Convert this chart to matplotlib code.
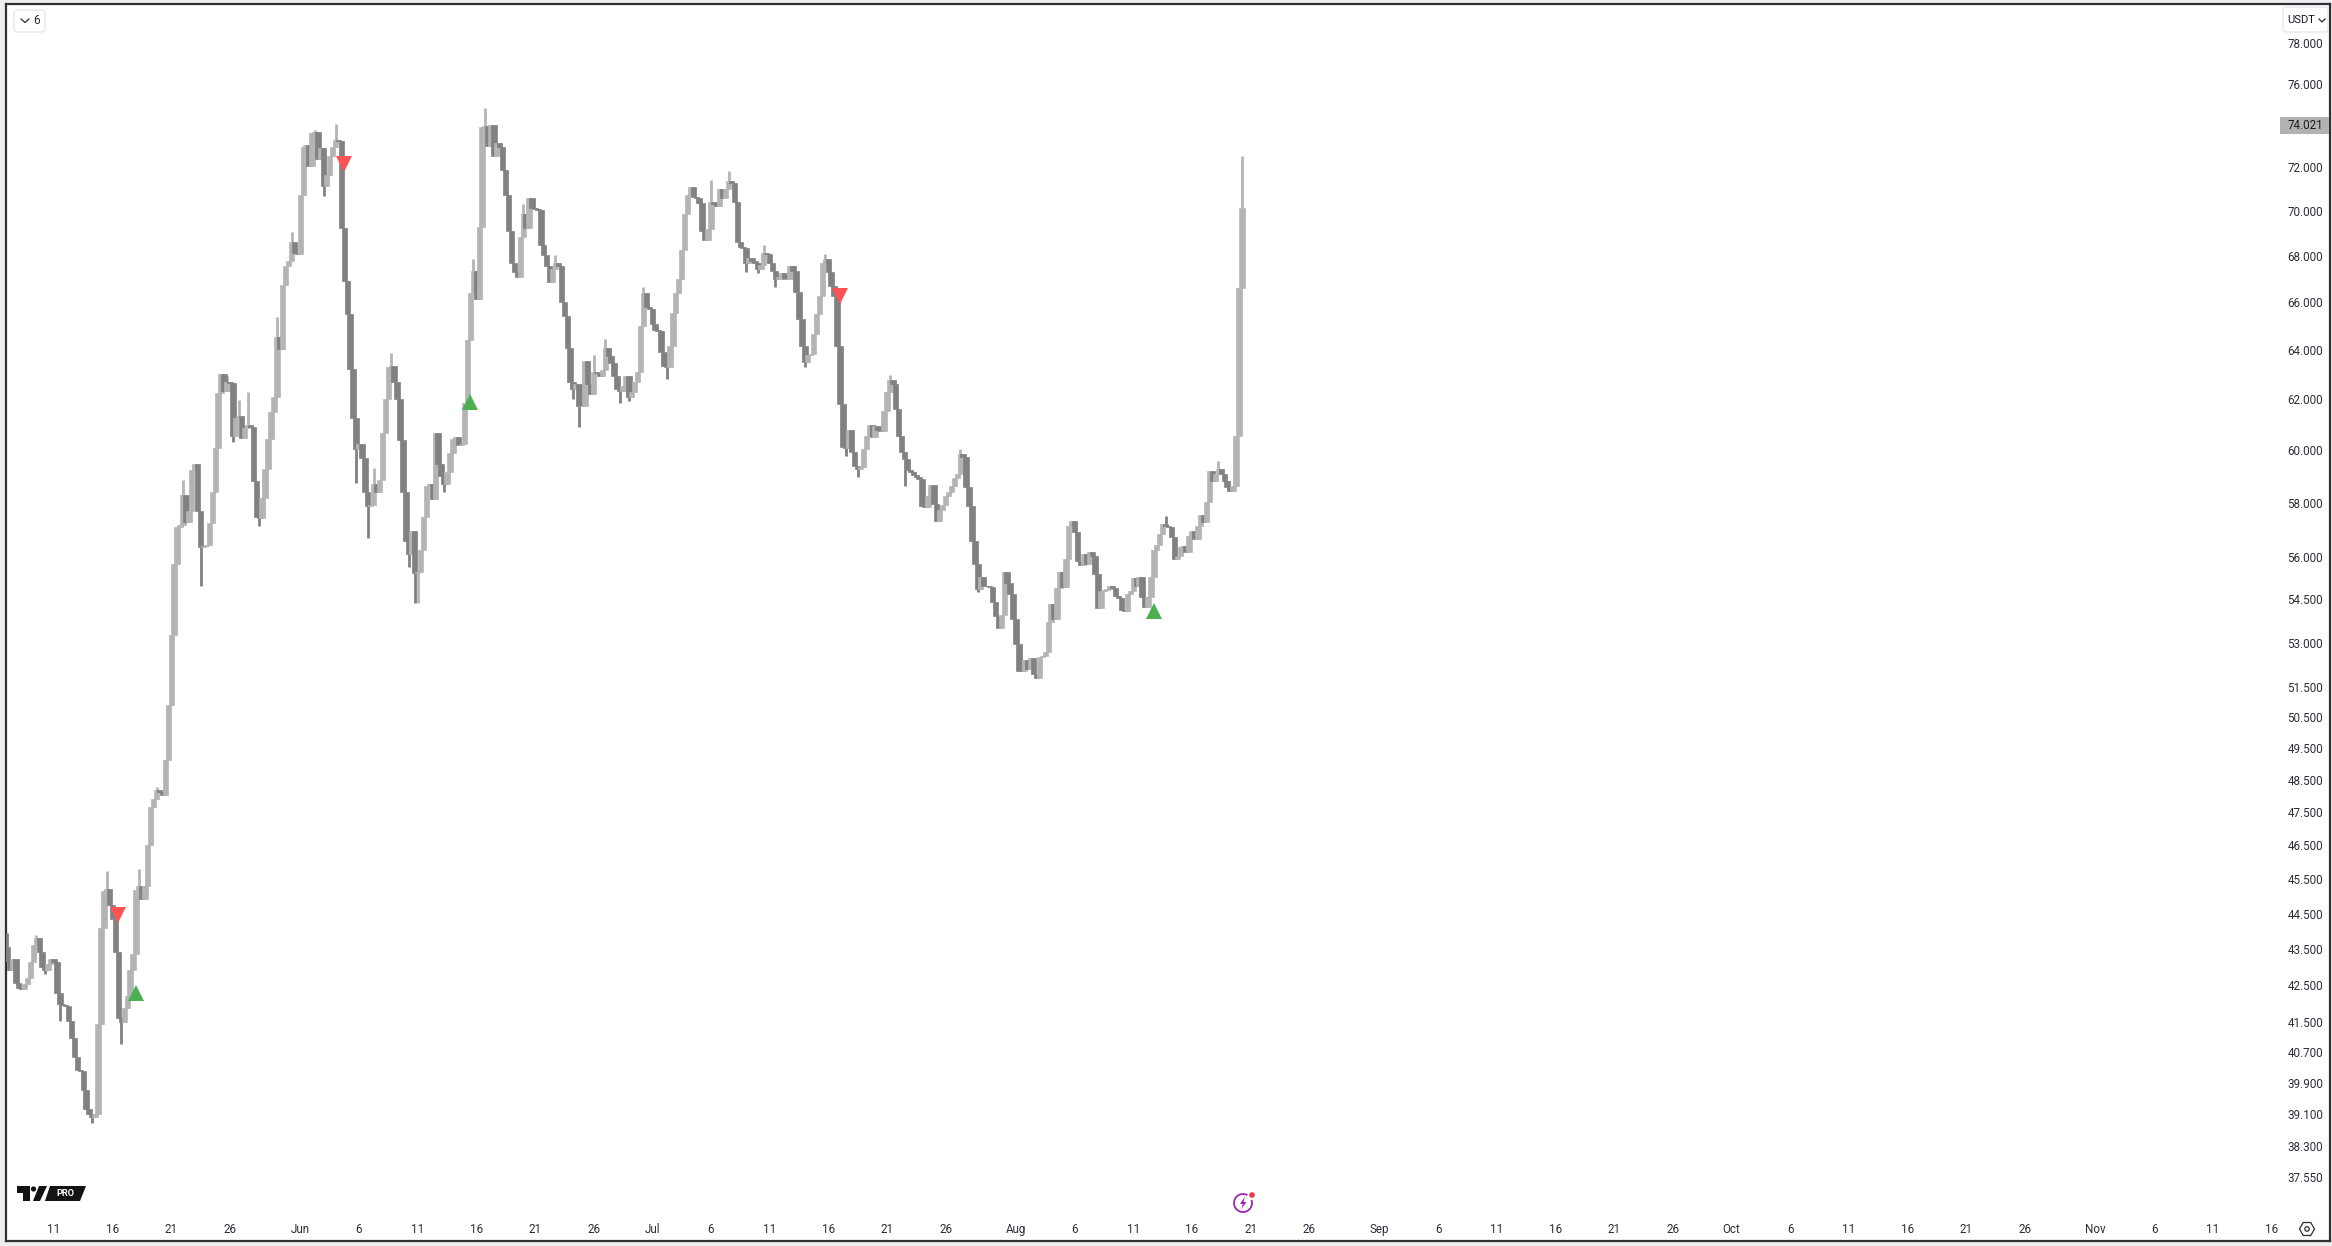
import matplotlib
matplotlib.use("Agg")
import matplotlib.pyplot as plt
from matplotlib.patches import Circle, FancyBboxPatch, Polygon, Rectangle, RegularPolygon, Arc
from matplotlib.ticker import NullLocator

W, H = 2332, 1246

first_open = 43.56
closes = [
    43.17, 42.92, 43.22, 42.56, 42.42, 42.40, 42.53, 42.70, 43.14, 43.60,
    43.80, 43.42, 42.98, 42.92, 43.08, 43.22, 43.14, 42.29, 41.97, 41.96,
    41.93, 41.53, 41.08, 40.56, 40.22, 40.20, 39.71, 39.22, 39.10, 39.02,
    39.10, 41.45, 44.09, 45.15, 45.20, 44.75, 44.35, 43.42, 41.61, 41.50,
    41.88, 42.20, 42.92, 43.36, 45.18, 45.30, 44.92, 45.30, 46.50, 47.67,
    47.90, 48.18, 48.12, 48.05, 49.12, 50.92, 53.27, 55.75, 57.10, 57.18,
    58.28, 57.27, 57.68, 59.25, 59.45, 57.68, 56.35, 56.40, 56.45, 57.23,
    58.42, 60.09, 62.24, 63.01, 62.32, 62.68, 62.64, 60.55, 61.25, 61.32,
    60.47, 60.88, 60.97, 60.92, 58.81, 57.48, 57.43, 58.16, 59.29, 60.45,
    61.50, 62.11, 64.53, 64.05, 66.73, 67.58, 67.77, 68.62, 68.13, 68.10,
    70.73, 72.95, 73.05, 72.07, 73.62, 73.67, 72.38, 72.90, 71.14, 71.65,
    72.53, 72.95, 73.26, 73.24, 69.25, 66.92, 65.49, 63.24, 61.25, 60.03,
    60.25, 59.68, 58.42, 57.89, 57.93, 58.71, 58.40, 58.86, 60.65, 62.02,
    63.32, 63.36, 62.68, 62.02, 60.40, 58.42, 56.59, 56.10, 56.96, 55.43,
    55.48, 56.25, 57.46, 58.62, 58.71, 58.12, 60.65, 59.45, 59.01, 58.71,
    59.17, 59.89, 60.45, 60.50, 60.20, 60.25, 61.87, 64.43, 66.38, 67.36,
    66.15, 69.28, 73.88, 73.93, 73.00, 74.00, 72.55, 73.15, 72.95, 71.90,
    70.75, 69.10, 67.70, 67.30, 67.07, 68.85, 69.87, 69.25, 70.60, 70.15,
    70.10, 70.05, 68.50, 68.05, 67.55, 66.85, 67.42, 67.70, 67.55, 66.00,
    65.40, 64.10, 62.68, 62.40, 62.60, 61.72, 61.75, 63.55, 62.60, 62.20,
    63.08, 63.05, 62.95, 63.20, 64.10, 63.75, 63.45, 62.92, 62.40, 62.35,
    62.52, 62.92, 62.08, 62.28, 62.68, 63.08, 64.98, 66.38, 65.78, 65.70,
    65.07, 64.82, 64.77, 63.90, 63.34, 63.30, 64.15, 65.55, 66.38, 67.02,
    68.28, 69.87, 70.75, 71.10, 70.65, 70.60, 70.38, 69.10, 68.70, 69.20,
    70.40, 70.30, 70.25, 71.00, 70.60, 71.00, 71.35, 71.30, 70.40, 68.60,
    68.40, 68.35, 67.70, 67.90, 67.78, 67.68, 67.42, 67.60, 68.15, 68.10,
    67.70, 67.33, 66.98, 67.10, 67.25, 66.98, 67.02, 67.55, 67.33, 66.43,
    65.28, 64.15, 63.50, 63.78, 63.82, 64.65, 65.50, 66.25, 67.70, 67.85,
    67.30, 66.68, 66.25, 64.15, 61.80, 60.12, 60.10, 60.80, 59.92, 59.38,
    59.27, 59.35, 60.03, 60.55, 60.97, 60.50, 60.93, 60.77, 60.75, 61.52,
    62.28, 62.76, 62.60, 61.60, 60.55, 59.92, 59.65, 59.23, 59.15, 59.05,
    58.97, 58.90, 57.87, 57.85, 58.25, 58.67, 57.95, 57.32, 57.72, 57.90,
    58.25, 58.40, 58.63, 58.93, 59.08, 59.85, 59.73, 58.60, 57.87, 56.60,
    55.75, 54.87, 55.29, 54.97, 54.95, 54.93, 54.40, 53.92, 53.50, 53.96,
    55.47, 55.07, 54.69, 53.82, 52.96, 52.05, 52.03, 52.42, 52.10, 52.48,
    51.95, 51.80, 52.50, 52.55, 52.68, 53.70, 54.33, 53.82, 54.90, 55.47,
    54.93, 55.93, 57.13, 57.32, 56.90, 55.85, 55.72, 56.10, 55.75, 56.17,
    56.03, 55.40, 54.20, 54.80, 54.82, 54.87, 54.97, 54.90, 54.62, 54.55,
    54.13, 54.10, 54.69, 54.80, 55.25, 54.97, 55.27, 54.58, 54.23, 54.58,
    55.29, 56.25, 56.44, 56.85, 57.21, 57.13, 57.10, 56.73, 55.93, 56.05,
    56.37, 56.40, 56.20, 56.77, 56.95, 56.66, 57.13, 57.53, 57.28, 58.02,
    59.20, 58.83, 59.08, 59.27, 59.08, 58.80, 58.60, 58.45, 58.62, 60.55,
    66.60, 70.15,
]

# bars whose wick sticks out of the body
high_bars = [0, 10, 34, 45, 51, 60, 75, 79, 82, 92, 97, 105, 112, 125, 131, 159, 163, 176,
             187, 200, 204, 217, 240, 246, 258, 279, 301, 325, 395, 413, 421]
high_prices = [43.96, 43.90, 45.73, 45.80, 48.30, 58.86, 62.95, 61.98, 62.28, 65.36, 69.07, 73.78, 74.03,
               59.32, 63.88, 67.86, 74.80, 70.30, 68.03, 63.78, 64.44, 66.64, 71.40, 71.85, 68.50, 68.10,
               62.97, 60.03, 57.50, 59.57, 72.55]
low_bars = [13, 18, 29, 39, 66, 77, 86, 108, 119, 123, 137, 139, 140, 149, 193, 195, 209, 212, 225,
            252, 256, 262, 272, 286, 290, 306, 331]
low_prices = [42.80, 41.53, 38.87, 40.90, 54.98, 60.31, 57.12, 70.68, 58.74, 56.70, 55.65, 54.35, 54.35,
              58.40, 62.00, 60.90, 61.85, 61.92, 62.80, 67.30, 67.25, 66.64, 63.30, 59.77, 58.97, 58.63, 54.76]

sell_bars = [38, 115, 284]
sell_prices = [44.45, 72.18, 66.25]
buy_bars = [44, 158, 391]
buy_prices = [42.27, 61.90, 54.10]

price_ticks = [78, 76, 74.021, 72, 70, 68, 66, 64, 62, 60, 58, 56, 54.5, 53, 51.5, 50.5, 49.5, 48.5,
               47.5, 46.5, 45.5, 44.5, 43.5, 42.5, 41.5, 40.7, 39.9, 39.1, 38.3, 37.55]
price_labels = ["78.000", "76.000", "74.021", "72.000", "70.000", "68.000", "66.000", "64.000", "62.000",
                "60.000", "58.000", "56.000", "54.500", "53.000", "51.500", "50.500", "49.500", "48.500",
                "47.500", "46.500", "45.500", "44.500", "43.500", "42.500", "41.500", "40.700", "39.900",
                "39.100", "38.300", "37.550"]

date_bars = [16, 36, 56, 76, 100, 120, 140, 160, 180, 200, 220, 240, 260, 280, 300, 320, 344, 364, 384,
             404, 424, 444, 468, 488, 508, 528, 548, 568, 588, 608, 628, 648, 668, 688, 712, 732, 752, 772]
date_labels = ["11", "16", "21", "26", "Jun", "6", "11", "16", "21", "26", "Jul", "6", "11", "16", "21", "26",
               "Aug", "6", "11", "16", "21", "26", "Sep", "6", "11", "16", "21", "26", "Oct", "6", "11", "16",
               "21", "26", "Nov", "6", "11", "16"]

UP = "#b4b4b4"
DOWN = "#818181"
FRAME = "#2f3136"
TEXT = "#2a2e39"

plt.rcParams["font.family"] = ["Roboto", "DejaVu Sans"]

fig = plt.figure(figsize=(W / 100, H / 100), dpi=100, facecolor="#eeeeee")
ax = fig.add_axes([6 / W, 1 - 1241 / H, (2330 - 6) / W, (1241 - 4) / H], facecolor="white")
ax.set_yscale("log")
ax.set_xlim(-0.34, 792.0)
ax.set_ylim(36.03, 80.0)

opens = [first_open] + closes[:-1]
bars = list(range(len(closes)))
colors = [UP if c >= o else DOWN for o, c in zip(opens, closes)]

# wicks first, bodies drawn over them bar by bar
ax.vlines(high_bars, [max(opens[b], closes[b]) for b in high_bars], high_prices,
          colors=[colors[b] for b in high_bars], linewidth=2.0, zorder=3)
ax.vlines(low_bars, low_prices, [min(opens[b], closes[b]) for b in low_bars],
          colors=[colors[b] for b in low_bars], linewidth=2.0, zorder=3)
ax.bar(bars, [abs(c - o) for o, c in zip(opens, closes)], bottom=[min(o, c) for o, c in zip(opens, closes)],
       width=1.85, color=colors, edgecolor=colors, linewidth=0.5, zorder=3)

ax.plot(sell_bars, sell_prices, linestyle="none", marker="v", markersize=11.5, color="#ff5252", mew=0, zorder=4)
ax.plot(buy_bars, buy_prices, linestyle="none", marker="^", markersize=11.5, color="#4caf50", mew=0, zorder=4)

ax.yaxis.tick_right()
ax.set_yticks(price_ticks, price_labels)
ax.yaxis.set_minor_locator(NullLocator())
ax.tick_params(axis="y", length=0, pad=-5, labelsize=8.4, labelcolor=TEXT)
plt.setp(ax.get_yticklabels(), ha="right")
ax.set_xticks(date_bars, date_labels)
ax.tick_params(axis="x", length=0, pad=-8.6, labelsize=8.4, labelcolor=TEXT)
plt.setp(ax.get_xticklabels(), va="center")
for s in ax.spines.values():
    s.set_color(FRAME)
    s.set_linewidth(1.6)

# overlay in picture pixels for the chart chrome
ui = fig.add_axes([0, 0, 1, 1], facecolor="none")
ui.set_xlim(0, W)
ui.set_ylim(H, 0)
ui.axis("off")

# interval button
ui.add_patch(FancyBboxPatch((16, 12), 27, 18, boxstyle="round,pad=2,rounding_size=3", fc="white", ec="#e0e3eb", lw=0.8))
ui.plot([21, 25, 29], [19, 22.5, 19], color=TEXT, lw=0.9)
ui.text(37, 20.5, "6", ha="center", va="center", fontsize=8.6, color=TEXT)

# currency button
ui.add_patch(FancyBboxPatch((2285, 9), 41, 21, boxstyle="round,pad=2,rounding_size=3", fc="white", ec="#e0e3eb", lw=0.8))
ui.text(2301, 20, "USDT", ha="center", va="center", fontsize=8.0, color="#131722")
ui.plot([2319, 2322, 2325], [19, 22, 19], color=TEXT, lw=0.9)

# last price tag
ui.add_patch(Rectangle((2280, 117), 49, 17, fc="#b2b2b2", ec="none"))
ui.text(2323, 125.5, "74.021", ha="right", va="center", fontsize=8.4, color="#1c1c1c")

# logo
ui.add_patch(Polygon([(17, 1186), (30, 1186), (30, 1201), (23, 1201), (23, 1193), (17, 1193)], fc="#131313", ec="none"))
ui.add_patch(Circle((33.5, 1189), 2.6, fc="#131313", ec="none"))
ui.add_patch(Polygon([(39, 1186), (47, 1186), (40, 1201), (33, 1201)], fc="#131313", ec="none"))
ui.add_patch(Polygon([(50, 1186), (86, 1186), (80, 1201), (45, 1201)], fc="#131313", ec="none"))
ui.text(65.5, 1193.5, "PRO", ha="center", va="center", fontsize=6.6, color="white", fontweight="bold")

# lightning icon
ui.add_patch(Arc((1243, 1203), 18, 18, theta1=-20, theta2=300, ec="#9c27b0", lw=1.3))
ui.add_patch(Polygon([(1245, 1196.5), (1240, 1204), (1243, 1204), (1241, 1209.5), (1246.5, 1202), (1243.5, 1202)], fc="#9c27b0", ec="none"))
ui.add_patch(Circle((1252, 1195), 2.8, fc="#f23645", ec="none"))

# settings icon
ui.add_patch(RegularPolygon((2307, 1229), 6, radius=7.5, orientation=3.14159 / 2, fc="white", ec="#2a2e39", lw=0.9))
ui.add_patch(Circle((2307, 1229), 2.2, fc="white", ec="#2a2e39", lw=0.9))

fig.savefig("out.png", dpi=100, facecolor=fig.get_facecolor())
